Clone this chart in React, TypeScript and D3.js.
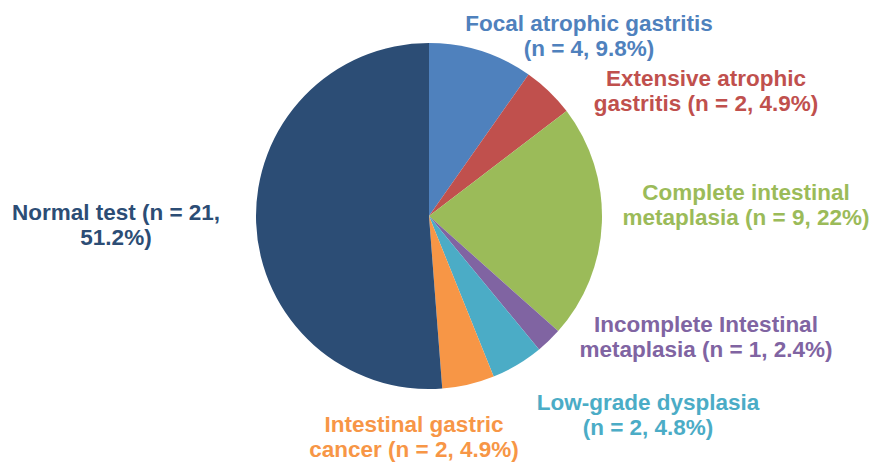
import React from "react";
import * as d3 from "d3";

// Study groups, in clockwise order from 12 o'clock
const categories = [
  "Focal atrophic gastritis",
  "Extensive atrophic gastritis",
  "Complete intestinal metaplasia",
  "Incomplete Intestinal metaplasia",
  "Low-grade dysplasia",
  "Intestinal gastric cancer",
  "Normal test",
];
const counts = [4, 2, 9, 1, 2, 2, 21];
const percents = ["9.8%", "4.9%", "22%", "2.4%", "4.8%", "4.9%", "51.2%"];
const colors = ["#4F81BD", "#C0504D", "#9BBB59", "#8064A2", "#4BACC6", "#F79646", "#2C4D75"];

// Two-line label text for each group
const labelLines: string[][] = [
  ["Focal atrophic gastritis", "(n = 4, 9.8%)"],
  ["Extensive atrophic", "gastritis (n = 2, 4.9%)"],
  ["Complete intestinal", "metaplasia (n = 9, 22%)"],
  ["Incomplete Intestinal", "metaplasia (n = 1, 2.4%)"],
  ["Low-grade dysplasia", "(n = 2, 4.8%)"],
  ["Intestinal gastric", "cancer (n = 2, 4.9%)"],
  ["Normal test (n = 21,", "51.2%)"],
];
// Label anchor (centre x, first baseline y)
const labelPos: [number, number][] = [
  [589, 31],
  [706, 86],
  [746, 200],
  [706, 332],
  [648, 410],
  [414, 432],
  [116, 220],
];

const W = 872;
const H = 463;
const cx = 429;
const cy = 216;
const R = 173;

export default function App() {
  const pie = d3
    .pie<number>()
    .sort(null)
    .value((d) => d)
    .startAngle(0)
    .endAngle(2 * Math.PI);
  const arcs = pie(counts);
  const arc = d3.arc<d3.PieArcDatum<number>>().innerRadius(0).outerRadius(R);

  return (
    <div style={{ position: "absolute", left: 0, top: 0 }}>
      <svg width={W} height={H} style={{ display: "block", background: "#fff" }}>
        <g transform={`translate(${cx},${cy})`}>
          {arcs.map((a, i) => (
            <path key={categories[i]} d={arc(a) ?? ""} fill={colors[i]} />
          ))}
        </g>
        <g
          fontFamily="'Liberation Sans', Arial, sans-serif"
          fontWeight="bold"
          fontSize={22.5}
          textAnchor="middle"
        >
          {labelLines.map((lines, i) => (
            <text key={categories[i]} x={labelPos[i][0]} y={labelPos[i][1]} fill={colors[i]}>
              {lines.map((l, j) => (
                <tspan key={j} x={labelPos[i][0]} dy={j === 0 ? 0 : 25}>
                  {l}
                </tspan>
              ))}
            </text>
          ))}
        </g>
      </svg>
    </div>
  );
}
